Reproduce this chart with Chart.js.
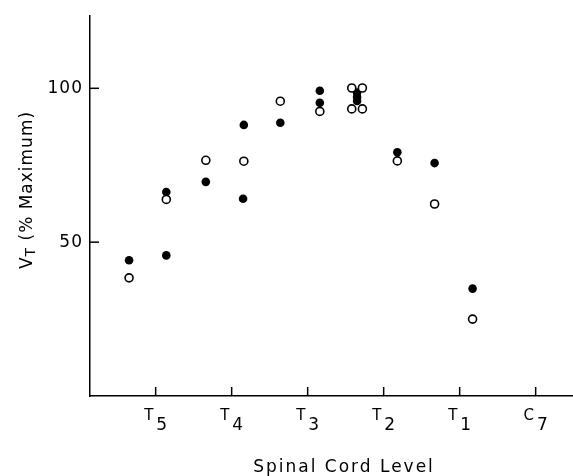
<!DOCTYPE html>
<html>
<head>
<meta charset="utf-8">
<script src="https://cdn.jsdelivr.net/npm/chart.js@4/dist/chart.umd.min.js"></script>
<style>
  body { margin: 0; background: #fff; }
  canvas { display: block; }
</style>
</head>
<body>
<canvas id="chart" width="573" height="476"></canvas>
<script>
// niveles medulares: T5 = 1 ... C7 = 6
const levelValues = [1, 2, 3, 4, 5, 6];
const levelLetters = ['T', 'T', 'T', 'T', 'T', 'C'];
const levelSubs = ['5', '4', '3', '2', '1', '7'];
const yTickValues = [50, 100];

// puntos rellenos
const filledLevel = [0.65, 1.14, 1.14, 1.66, 2.16, 2.15, 2.64, 3.16, 3.16, 3.65, 3.65, 3.65, 4.18, 4.67, 5.17];
const filledVt    = [44.1, 45.7, 66.3, 69.6, 88.1, 64.1, 88.8, 99.2, 95.3, 98.6, 97.2, 95.9, 79.2, 75.7, 34.9];

// puntos abiertos
const openLevel = [0.65, 1.14, 1.66, 2.16, 2.64, 3.16, 3.58, 3.72, 3.58, 3.72, 4.18, 4.67, 5.17];
const openVt    = [38.4, 63.9, 76.6, 76.3, 95.8, 92.5, 100.1, 100.1, 93.3, 93.3, 76.4, 62.4, 25.0];

const FONT = "'DejaVu Sans', sans-serif";

const toPoints = (xs, ys) => xs.map((x, i) => ({ x: x, y: ys[i] }));

// ejes, marcas y textos con subindices
const decorPlugin = {
    id: 'decor',
    afterDraw(chart) {
        const ctx = chart.ctx;
        const xs = chart.scales.x;
        const ys = chart.scales.y;
        const area = chart.chartArea;
        ctx.save();
        ctx.strokeStyle = '#000';
        ctx.fillStyle = '#000';
        ctx.lineWidth = 1.5;

        // marcas del eje x (hacia dentro)
        levelValues.forEach((v, i) => {
            const px = xs.getPixelForValue(v);
            ctx.beginPath();
            ctx.moveTo(px, area.bottom);
            ctx.lineTo(px, area.bottom - 9);
            ctx.stroke();

            ctx.font = '15px ' + FONT;
            const wL = ctx.measureText(levelLetters[i]).width;
            ctx.font = '17px ' + FONT;
            const wS = ctx.measureText(levelSubs[i]).width;
            const start = px - (wL + 3 + wS) / 2;
            ctx.textAlign = 'left';
            ctx.textBaseline = 'alphabetic';
            ctx.font = '15px ' + FONT;
            ctx.fillText(levelLetters[i], start, area.bottom + 24);
            ctx.font = '17px ' + FONT;
            ctx.fillText(levelSubs[i], start + wL + 3, area.bottom + 34);
        });

        // marcas del eje y
        ctx.letterSpacing = '1px';
        yTickValues.forEach(v => {
            const py = ys.getPixelForValue(v);
            ctx.beginPath();
            ctx.moveTo(area.left, py);
            ctx.lineTo(area.left + 9, py);
            ctx.stroke();
            ctx.font = '17px ' + FONT;
            ctx.textAlign = 'right';
            ctx.textBaseline = 'middle';
            ctx.fillText(String(v), area.left - 7, py);
        });

        // titulo eje x
        ctx.letterSpacing = '2px';
        ctx.font = '17px ' + FONT;
        ctx.textAlign = 'center';
        ctx.textBaseline = 'alphabetic';
        ctx.fillText('Spinal Cord Level', area.left + 254, area.bottom + 76);

        // titulo eje y: V con subindice T
        ctx.letterSpacing = '1px';
        ctx.translate(32, 190);
        ctx.rotate(-Math.PI / 2);
        ctx.font = '17px ' + FONT;
        const wV = ctx.measureText('V').width;
        ctx.font = '14px ' + FONT;
        const wT = ctx.measureText('T').width;
        ctx.font = '17px ' + FONT;
        const rest = ' (% Maximum)';
        const wR = ctx.measureText(rest).width;
        let x0 = -(wV + wT + wR) / 2;
        ctx.textAlign = 'left';
        ctx.fillText('V', x0, 0);
        ctx.font = '14px ' + FONT;
        ctx.fillText('T', x0 + wV, 3);
        ctx.font = '17px ' + FONT;
        ctx.fillText(rest, x0 + wV + wT, 0);
        ctx.restore();
    }
};

new Chart(document.getElementById('chart'), {
    type: 'scatter',
    data: {
        datasets: [
            {
                data: toPoints(openLevel, openVt),
                backgroundColor: '#fff',
                borderColor: '#000',
                borderWidth: 1.6,
                pointRadius: 4
            },
            {
                data: toPoints(filledLevel, filledVt),
                backgroundColor: '#000',
                borderColor: '#000',
                borderWidth: 0,
                pointRadius: 4.3
            }
        ]
    },
    options: {
        responsive: false,
        animation: false,
        devicePixelRatio: 1,
        layout: { autoPadding: false, padding: { left: 90, top: 16, right: 1, bottom: 80 } },
        plugins: { legend: { display: false }, tooltip: { enabled: false } },
        scales: {
            x: {
                type: 'linear',
                min: 0.136,
                max: 6.478,
                ticks: { display: false },
                grid: { display: false, drawTicks: false },
                border: { display: true, color: '#000', width: 1.5 }
            },
            y: {
                min: 0,
                max: 123.5,
                ticks: { display: false },
                grid: { display: false, drawTicks: false },
                border: { display: true, color: '#000', width: 1.5 }
            }
        }
    },
    plugins: [decorPlugin]
});
</script>
</body>
</html>
